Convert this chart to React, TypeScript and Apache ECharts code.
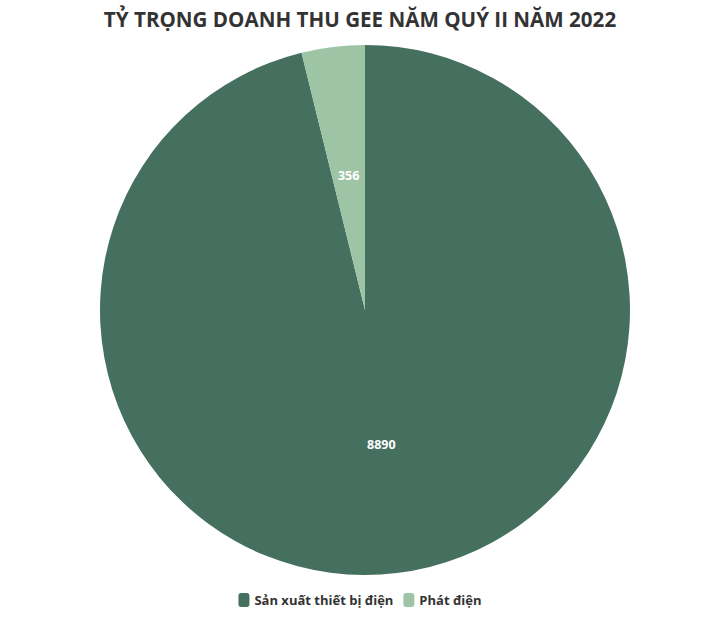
import React, { useEffect, useRef } from "react";
import * as echarts from "echarts";

const categories = ["Sản xuất thiết bị điện", "Phát điện"];
const values = [8890, 356];
const colors = ["#45705f", "#9dc5a5"];
const title = "TỶ TRỌNG DOANH THU GEE NĂM QUÝ II NĂM 2022";

export default function App() {
  const ref = useRef<HTMLDivElement>(null);
  useEffect(() => {
    if (!ref.current) return;
    const chart = echarts.init(ref.current, null, { renderer: "svg" });
    chart.setOption({
      animation: false,
      backgroundColor: "#ffffff",
      title: {
        text: title,
        left: "center",
        top: 3,
        textStyle: {
          fontFamily: "Open Sans",
          fontWeight: "bold",
          fontSize: 20.6,
          color: "#333333",
        },
      },
      legend: {
        bottom: 8,
        left: "center",
        icon: "roundRect",
        itemWidth: 11,
        itemHeight: 14,
        itemGap: 10,
        textStyle: {
          fontFamily: "Open Sans",
          fontWeight: "bold",
          fontSize: 13,
          color: "#333333",
        },
        data: categories,
      },
      series: [
        {
          type: "pie",
          center: [365, 310],
          radius: 265,
          startAngle: 90,
          clockwise: true,
          label: {
            show: true,
            position: "inside",
            formatter: "{c}",
            color: "#ffffff",
            fontFamily: "Open Sans",
            fontWeight: "bold",
            fontSize: 12.5,
          },
          labelLine: { show: false },
          itemStyle: { borderColor: "#ffffff", borderWidth: 0 },
          emphasis: { disabled: true },
          data: categories.map((name, i) => ({
            name,
            value: values[i],
            itemStyle: { color: colors[i] },
          })),
        },
      ],
    });
    return () => chart.dispose();
  }, []);
  return (
    <div
      ref={ref}
      style={{ position: "fixed", left: 0, top: 0, width: 720, height: 620 }}
    />
  );
}
